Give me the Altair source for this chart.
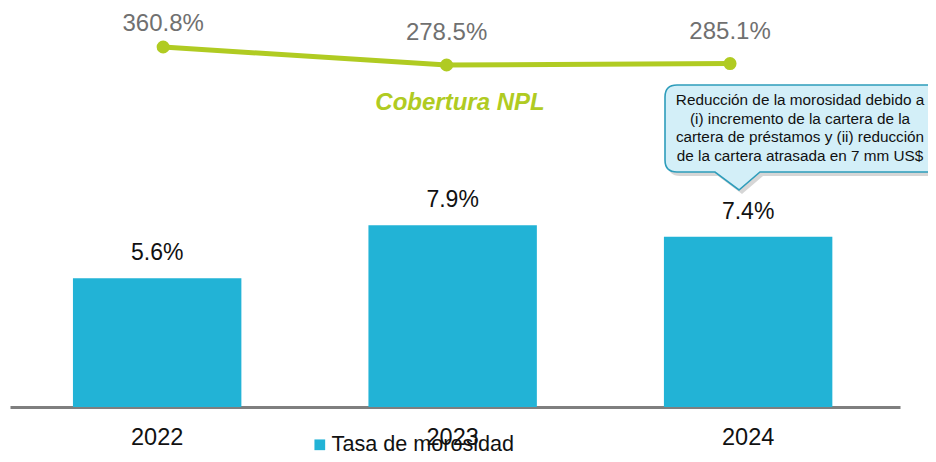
import altair as alt
import pandas as pd

years = ["2022", "2023", "2024"]
morosidad = [5.6, 7.9, 7.4]
morosidad_labels = ["5.6%", "7.9%", "7.4%"]
cobertura = [360.8, 278.5, 285.1]
cobertura_labels = ["360.8%", "278.5%", "285.1%"]
series_bar = "Tasa de morosidad"
line_title = "Cobertura NPL"
callout_lines = [
    "Reducción de la morosidad debido a",
    "(i) incremento de la cartera de la",
    "cartera de préstamos y (ii) reducción",
    "de la cartera atrasada en 7 mm US$",
]

BAR = "#22B3D6"
GREEN = "#B0CB22"
FONT = "Liberation Sans"

df = pd.DataFrame({
    "year": years,
    "mor": morosidad,
    "mor_lbl": morosidad_labels,
    "cob": cobertura,
    "cob_lbl": cobertura_labels,
    "serie": [series_bar] * 3,
})

W, H = 890, 399
CDOM = [-1285.0, 539.1]
UPP = (CDOM[1] - CDOM[0]) / H  # data units per pixel of the line scale

xb = alt.X("year:N", scale=alt.Scale(paddingInner=0.43, paddingOuter=0.221, align=0.482),
           axis=alt.Axis(title=None, labelAngle=0, ticks=False, labelFontSize=23.5,
                         labelColor="#111111", labelFont=FONT, labelPadding=18,
                         domainColor="#7F7F7F", domainWidth=3, grid=False))
yb = alt.Y("mor:Q", scale=alt.Scale(domain=[0, 17.35]), axis=None)

bars = alt.Chart(df).mark_bar(color=BAR).encode(
    x=xb, y=yb,
    color=alt.Color("serie:N", scale=alt.Scale(range=[BAR]),
                    legend=alt.Legend(title=None, orient="none", legendX=299, legendY=426,
                                      symbolType="square", symbolSize=115,
                                      labelFontSize=21.6, labelFont=FONT, labelColor="#111111",
                                      labelLimit=400, symbolStrokeWidth=0, labelOffset=1)),
)
bar_text = alt.Chart(df).mark_text(dy=-25, fontSize=23, font=FONT, color="#111111").encode(
    x=alt.X("year:N"), y=yb, text="mor_lbl:N")

xl = alt.X("year:N", scale=alt.Scale(type="point", padding=0.57, align=0.474), axis=None)
yscale = alt.Scale(domain=CDOM, zero=False)
yl = alt.Y("cob:Q", scale=yscale, axis=None)

line = alt.Chart(df).mark_line(color=GREEN, strokeWidth=5).encode(x=xl, y=yl)
pts = alt.Chart(df).mark_point(filled=True, color=GREEN, size=170, opacity=1).encode(x=xl, y=yl)
# labels sit 32px above each point, but never above the top band of the chart
line_text = alt.Chart(df).transform_calculate(
    ly=f"min(datum.cob + {32 * UPP:.4f}, {CDOM[1] - 16 * UPP:.4f})"
).mark_text(fontSize=24, font=FONT, color="#707070").encode(
    x=xl, y=alt.Y("ly:Q", scale=yscale, axis=None), text="cob_lbl:N")

title_df = pd.DataFrame({"t": [line_title]})
npl = alt.Chart(title_df).mark_text(fontSize=24, font=FONT, fontWeight="bold", fontStyle="italic",
                                    color=GREEN).encode(
    x=alt.value(450), y=alt.value(95), text="t:N")

# callout shape (custom SVG path, unit coords scaled by sqrt(size)/2)
S = 150.0
cx, cy = 795.0, 129.0  # chart coords of center (page minus 10, 8)
L, R, T, B = 665 - 10, 950 - 10, 85 - 8, 172 - 8
tl, tr, tip = 715 - 10, 760 - 10, (739 - 10, 190 - 8)
r = 12.0
def u(px, py):
    return f"{(px - cx) / S:.4f} {(py - cy) / S:.4f}"
path = (f"M {u(L + r, T)} L {u(R, T)} L {u(R, B)} L {u(tr, B)} L {u(*tip)} L {u(tl, B)} "
        f"L {u(L + r, B)} Q {u(L, B)} {u(L, B - r)} L {u(L, T + r)} Q {u(L, T)} {u(L + r, T)} Z")
callout_df = pd.DataFrame({"k": [1]})
shadow = alt.Chart(callout_df).mark_point(shape=path, size=(2 * S) ** 2, filled=True,
                                          color="#000000", opacity=0.16).encode(
    x=alt.value(cx + 3), y=alt.value(cy + 4))
callout = alt.Chart(callout_df).mark_point(shape=path, size=(2 * S) ** 2, filled=True,
                                           fill="#D3EFF8", stroke="#2E9DBB", strokeWidth=1.6,
                                           opacity=1).encode(
    x=alt.value(cx), y=alt.value(cy))
callout_text = alt.Chart(pd.DataFrame({"t": [callout_lines]})).mark_text(
    fontSize=15.3, font=FONT, color="#111111", lineHeight=18.7, baseline="middle", align="center").encode(
    x=alt.value(790), y=alt.value(92), text="t")

chart = alt.layer(
    alt.layer(bars, bar_text),
    alt.layer(line, pts, line_text),
    npl, shadow, callout, callout_text,
).resolve_scale(x="independent", y="independent").properties(
    width=W, height=H,
    padding={"left": 2, "top": 0, "right": 28, "bottom": 47},
    autosize=alt.AutoSizeParams(type="none"),
).configure_view(stroke=None)

chart.save("out.html", embed_options={"renderer": "svg", "actions": False})
